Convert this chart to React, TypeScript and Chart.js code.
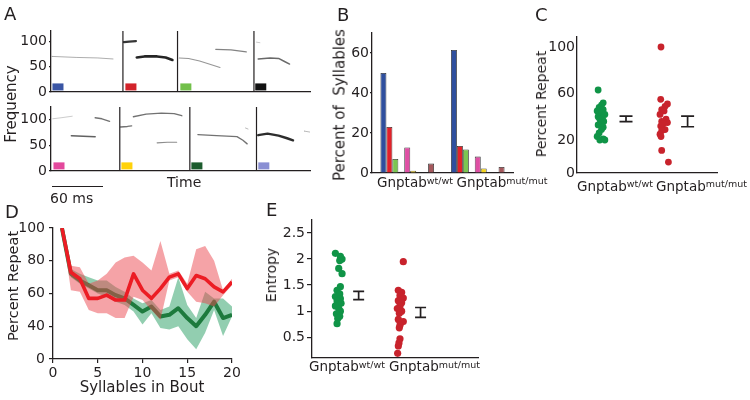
import React, { useEffect, useRef } from 'react';
import { Chart, registerables } from 'chart.js';

Chart.register(...registerables);

const FONT = "'DejaVu Sans', 'Liberation Sans', Arial, sans-serif";
const INK = '#231f20';
Chart.defaults.font.family = FONT;

// ---------------- Panel A: example syllable spectrograms (time ms, frequency kHz) ----------------
const A_TIME_MAX_MS = 305;
const A_TOP_FREQ_MAX = 120;
const A_BOTTOM_FREQ_MAX = 125;
const A_FREQ_TICKS = [0, 50, 100];
const A_TOP_DIVIDERS_MS = [84.7, 149, 239];
const A_BOTTOM_DIVIDERS_MS = [81, 163.5, 242];
const A_TOP_TRACES: number[][][] = [
  [[1, 70], [30, 68], [55, 67], [73, 65]],
  [[86, 98], [92, 99], [100, 100]],
  [[101, 68], [110, 70], [125, 70], [135, 68], [143, 63]],
  [[151, 67], [162, 66], [175, 61], [188, 54], [199, 48]],
  [[194, 84], [212, 83], [230, 79]],
  [[244, 65], [258, 67], [268, 66], [275, 60], [281, 55]],
  [[242, 98], [246, 97]],
];
const A_TOP_AMPLITUDE = [0.25, 0.9, 1.0, 0.35, 0.45, 0.6, 0.1];
const A_BOTTOM_TRACES: number[][][] = [
  [[2, 102], [12, 104], [25, 107]],
  [[52, 104], [60, 102], [69, 97]],
  [[24, 69], [38, 68], [52, 67]],
  [[82, 86], [90, 87], [95, 88]],
  [[97, 106], [112, 111], [130, 113], [145, 112], [154, 108]],
  [[125, 55], [137, 56], [148, 56]],
  [[173, 71], [195, 69], [219, 67], [226, 60], [231, 53]],
  [[229, 84], [232, 82]],
  [[244, 70], [255, 73], [268, 69], [278, 64], [285, 60]],
  [[298, 78], [305, 76]],
];
const A_BOTTOM_AMPLITUDE = [0.1, 0.55, 0.65, 0.55, 0.55, 0.4, 0.55, 0.2, 0.95, 0.2];
const A_TOP_KEY_MS = [8.2, 94.1, 158.8, 247];
const A_BOTTOM_KEY_MS = [9.4, 89.4, 171.8, 250.6];
const A_KEY_FREQ = 10;
const A_KEY_HALF_MS = 6.5;
const A_TOP_KEY_COLORS = ['#3a55a4', '#d2232a', '#72c04a', '#111111'];
const A_BOTTOM_KEY_COLORS = ['#e3489c', '#ffd20a', '#1c5c2e', '#8a8fd3'];

// ---------------- Panel B: syllable type usage ----------------
const B_GROUPS = ['Gnptab wt/wt', 'Gnptab mut/mut'];
const B_SYLLABLE_TYPES = ['blue', 'red', 'light green', 'black', 'pink', 'yellow', 'dark green', 'lavender', 'other'];
const B_WT = [50, 23, 7, 0.6, 12.8, 1.1, 0.4, 0.15, 4.7];
const B_MUT = [61.5, 13.5, 11.8, 0.4, 8.2, 2.3, 0.4, 0.15, 3];
const B_COLORS = ['#2f4f9e', '#e3222a', '#7cc651', '#1a1a1a', '#df4fa4', '#f4d51c', '#1d5d2e', '#8b8fd6', '#a5585c'];
const B_Y_TICKS = [0, 20, 40, 60];

// ---------------- Panel C: percent repeat per animal ----------------
const C_WT = [63, 52, 50, 48, 46, 45, 43, 42, 40, 39, 38, 36, 35, 33, 31, 29, 26, 23, 21, 20, 20];
const C_WT_JITTER = [-0.19, 0.17, 0.05, -0.12, 0.17, -0.26, 0.05, 0.29, -0.19, 0.12, -0.07, 0.21, -0.02, -0.19, 0.17, 0.05, -0.12, -0.26, 0.17, -0.07, 0.29];
const C_MUT = [100, 55, 51, 49, 46, 45, 42, 38, 36, 35, 34, 32, 29, 28, 25, 23, 11, 1];
const C_MUT_JITTER = [-0.17, -0.19, 0.29, 0.12, -0.12, 0.05, -0.24, 0.19, -0.12, 0.29, 0, -0.19, 0.12, -0.12, -0.24, -0.17, -0.12, 0.36];
const C_MEAN = [38.2, 36];
const C_SEM = [2.4, 4.6];
const C_GROUP_X = [1.7, 6.17];
const C_ERR_X = [3.5, 7.9];
const C_Y_MIN = -8.4;
const C_Y_MAX = 108.6;
const C_Y_TICK_VALUES = [C_Y_MIN, 20, 60, 100];
const C_Y_TICK_LABELS = ['0', '20', '60', '100'];

// ---------------- Panel D: percent repeat vs bout length ----------------
const D_SYLLABLES = [1, 2, 3, 4, 5, 6, 7, 8, 9, 10, 11, 12, 13, 14, 15, 16, 17, 18, 19, 20];
const D_MUT = [100, 73, 69, 57, 57, 59, 56, 56, 72, 62, 57, 63, 70, 72, 63, 71, 69, 64, 61, 67];
const D_MUT_HI = [100, 77, 76, 66, 68, 72, 79, 82, 83, 79, 74, 92, 72, 74, 66, 87, 89, 80, 62, 69];
const D_MUT_LO = [100, 62, 61, 50, 48, 48, 45, 45, 58, 56, 50, 44, 68, 70, 61, 55, 54, 52, 59, 65];
const D_WT = [100, 72, 68, 65, 62, 62, 59, 57, 53, 49, 52, 46, 47, 51, 45, 40, 47, 55, 45, 47];
const D_WT_HI = [100, 75, 72, 70, 68, 68, 64, 61, 57, 54, 56, 50, 52, 70, 53, 45, 61, 57, 57, 52];
const D_WT_LO = [100, 70, 66, 63, 60, 58, 55, 53, 49, 41, 48, 39, 38, 40, 32, 26, 36, 50, 34, 46];
const D_Y_TICK_VALUES = [20, 40, 60, 80, 100];
const D_Y_TICK_LABELS = ['0', '40', '60', '80', '100'];
const D_X_TICKS = [0, 5, 10, 15, 20];

// ---------------- Panel E: entropy per animal ----------------
const E_WT = [2.11, 2.05, 2.0, 1.97, 1.82, 1.72, 1.47, 1.4, 1.33, 1.28, 1.24, 1.2, 1.15, 1.1, 1.05, 1.0, 0.95, 0.9, 0.86, 0.76];
const E_WT_JITTER = [-0.16, 0.14, 0.24, 0.1, 0.04, 0.24, 0.14, -0.06, 0.1, -0.16, 0.14, -0.06, 0.18, -0.16, 0.04, 0.14, -0.1, 0.1, -0.02, -0.06];
const E_MUT = [1.95, 1.4, 1.36, 1.3, 1.25, 1.2, 1.16, 1.1, 1.05, 1.0, 0.96, 0.84, 0.8, 0.73, 0.68, 0.47, 0.39, 0.33, 0.19];
const E_MUT_JITTER = [0.14, -0.16, 0.04, -0.06, 0.14, -0.16, 0.04, -0.06, -0.22, 0.04, -0.1, -0.16, 0.14, -0.06, -0.1, -0.06, -0.12, -0.16, -0.2];
const E_MEAN = [1.3, 0.975];
const E_SEM = [0.08, 0.095];
const E_GROUP_X = [1.57, 5.36];
const E_ERR_X = [2.81, 6.54];
const E_Y_TICKS = [0.5, 1, 1.5, 2, 2.5];

const GREEN = '#109447';
const RED = '#c8232c';
const RED_LINE = '#ec1c24';
const GREEN_LINE = '#1d7a3d';
const RED_BAND = 'rgba(236, 72, 80, 0.5)';
const GREEN_BAND = 'rgba(38, 158, 98, 0.5)';

// ---------------- helpers ----------------
type Box = { left: number; top: number; width: number; height: number };
type Area = { left: number; top: number; right: number; bottom: number };

function baseOptions(box: Box, area: Area, scales: any, xHeight = 0) {
  return {
    responsive: false,
    maintainAspectRatio: false,
    animation: false,
    devicePixelRatio: 1,
    events: [],
    layout: {
      padding: {
        left: 0,
        top: area.top - box.top,
        right: box.left + box.width - area.right,
        bottom: box.top + box.height - area.bottom - xHeight,
      },
    },
    elements: { point: { radius: 0 } },
    plugins: { legend: { display: false }, tooltip: { enabled: false } },
    scales,
  };
}

function yScale(box: Box, area: Area, o: { min: number; max: number; ticks: number[]; labels?: string[]; tickLength: number; padding: number }) {
  return {
    type: 'linear',
    min: o.min,
    max: o.max,
    afterFit: (s: any) => { s.width = area.left - box.left; },
    afterBuildTicks: (s: any) => { s.ticks = o.ticks.map((v) => ({ value: v })); },
    border: { display: true, color: INK, width: 1.3 },
    grid: { display: true, drawOnChartArea: false, drawTicks: o.tickLength > 0, tickLength: o.tickLength, color: INK, lineWidth: 1.2 },
    ticks: {
      color: INK,
      font: { family: FONT, size: 14 },
      padding: o.padding,
      callback: (v: number, i: number) => (o.labels ? o.labels[i] : String(v)),
    },
  };
}

function xHidden(extra: any = {}) {
  return {
    afterFit: (s: any) => { s.height = 0; },
    border: { display: true, color: INK, width: 1.3 },
    grid: { display: false },
    ticks: { display: false },
    ...extra,
  };
}

function errorBarPlugin(xs: number[], means: number[], sems: number[], capHalf: number) {
  return {
    id: 'errorBars',
    afterDatasetsDraw(chart: any) {
      const { ctx, scales } = chart;
      ctx.save();
      ctx.strokeStyle = INK;
      ctx.lineWidth = 1.7;
      xs.forEach((xv, i) => {
        const px = scales.x.getPixelForValue(xv);
        const top = scales.y.getPixelForValue(means[i] + sems[i]);
        const bot = scales.y.getPixelForValue(means[i] - sems[i]);
        ctx.beginPath();
        ctx.moveTo(px, top); ctx.lineTo(px, bot);
        ctx.moveTo(px - capHalf, top); ctx.lineTo(px + capHalf, top);
        ctx.moveTo(px - capHalf, bot); ctx.lineTo(px + capHalf, bot);
        ctx.stroke();
      });
      ctx.restore();
    },
  };
}

function ChartCanvas({ box, build }: { box: Box; build: () => any }) {
  const ref = useRef<HTMLCanvasElement>(null);
  useEffect(() => {
    const chart = new Chart(ref.current as HTMLCanvasElement, build());
    return () => chart.destroy();
  }, []);
  return (
    <canvas
      ref={ref}
      width={box.width}
      height={box.height}
      style={{ position: 'absolute', left: box.left, top: box.top, width: box.width, height: box.height }}
    />
  );
}

// ---------------- chart builders ----------------
function spectrogramConfig(box: Box, area: Area, freqMax: number, traces: number[][][], amps: number[], dividers: number[], keys: number[], keyColors: string[]) {
  const datasets: any[] = [];
  traces.forEach((tr, i) => {
    const a = amps[i];
    datasets.push({
      data: tr.map(([x, y]) => ({ x, y })),
      showLine: true,
      borderColor: `rgba(25,25,25,${0.2 + 0.75 * a})`,
      borderWidth: 0.8 + 1.8 * a * a,
      borderCapStyle: 'round',
      borderJoinStyle: 'round',
      pointRadius: 0,
    });
  });
  dividers.forEach((d) => {
    datasets.push({ data: [{ x: d, y: 0 }, { x: d, y: freqMax }], showLine: true, borderColor: INK, borderWidth: 1.2, pointRadius: 0 });
  });
  keys.forEach((k, i) => {
    datasets.push({
      data: [{ x: k - A_KEY_HALF_MS, y: A_KEY_FREQ }, { x: k + A_KEY_HALF_MS, y: A_KEY_FREQ }],
      showLine: true,
      borderColor: keyColors[i],
      borderWidth: 7,
      borderCapStyle: 'butt',
      pointRadius: 0,
    });
  });
  return {
    type: 'scatter',
    data: { datasets },
    options: baseOptions(box, area, {
      x: xHidden({ type: 'linear', min: 0, max: A_TIME_MAX_MS }),
      y: yScale(box, area, { min: 0, max: freqMax, ticks: A_FREQ_TICKS, tickLength: 2, padding: 2 }),
    }),
  };
}

const A_TOP_BOX = { left: 0, top: 15, width: 320, height: 93 };
const A_TOP_AREA = { left: 51, top: 31, right: 310, bottom: 92 };
const A_BOT_BOX = { left: 0, top: 91, width: 320, height: 96 };
const A_BOT_AREA = { left: 51, top: 107, right: 310, bottom: 171 };

const B_BOX = { left: 335, top: 17, width: 188, height: 172 };
const B_AREA = { left: 372, top: 33, right: 513, bottom: 173 };
function buildB() {
  return {
    type: 'bar',
    data: {
      labels: B_GROUPS,
      datasets: B_SYLLABLE_TYPES.map((name, i) => ({
        label: name,
        data: [B_WT[i], B_MUT[i]],
        backgroundColor: B_COLORS[i],
        borderColor: '#2a2a2a',
        borderWidth: 0.8,
        categoryPercentage: 0.76,
        barPercentage: 1,
      })),
    },
    options: baseOptions(B_BOX, B_AREA, {
      x: xHidden({ type: 'category' }),
      y: yScale(B_BOX, B_AREA, { min: 0, max: 70, ticks: B_Y_TICKS, tickLength: 2, padding: 1 }),
    }),
  };
}

function dots(values: number[], jitter: number[], center: number) {
  return values.map((v, i) => ({ x: center + jitter[i], y: v }));
}

const C_BOX = { left: 540, top: 21, width: 191, height: 168 };
const C_AREA = { left: 577, top: 37, right: 717, bottom: 173 };
function buildC() {
  return {
    type: 'scatter',
    data: {
      datasets: [
        { data: dots(C_WT, C_WT_JITTER, C_GROUP_X[0]), backgroundColor: GREEN, pointRadius: 3.4, borderWidth: 0 },
        { data: dots(C_MUT, C_MUT_JITTER, C_GROUP_X[1]), backgroundColor: RED, pointRadius: 3.4, borderWidth: 0 },
      ],
    },
    plugins: [errorBarPlugin(C_ERR_X, C_MEAN, C_SEM, 6.5)],
    options: baseOptions(C_BOX, C_AREA, {
      x: xHidden({ type: 'linear', min: 0, max: 10 }),
      y: yScale(C_BOX, C_AREA, { min: C_Y_MIN, max: C_Y_MAX, ticks: C_Y_TICK_VALUES, labels: C_Y_TICK_LABELS, tickLength: 0, padding: 2 }),
    }),
  };
}

const D_BOX = { left: 0, top: 212, width: 246, height: 177 };
const D_AREA = { left: 53, top: 228, right: 232, bottom: 359 };
const D_X_AXIS_HEIGHT = 28;
function buildD() {
  const pts = (ys: number[]) => D_SYLLABLES.map((x, i) => ({ x, y: ys[i] }));
  const clear = 'rgba(0,0,0,0)';
  return {
    type: 'line',
    data: {
      datasets: [
        { data: pts(D_MUT), borderColor: RED_LINE, borderWidth: 3.6, borderJoinStyle: 'round', fill: false, order: 0 },
        { data: pts(D_MUT_HI), borderColor: clear, borderWidth: 1, backgroundColor: RED_BAND, fill: '+1', order: 1 },
        { data: pts(D_MUT_LO), borderColor: clear, borderWidth: 1, fill: false, order: 1 },
        { data: pts(D_WT), borderColor: GREEN_LINE, borderWidth: 4, borderJoinStyle: 'round', fill: false, order: 2 },
        { data: pts(D_WT_HI), borderColor: clear, borderWidth: 1, backgroundColor: GREEN_BAND, fill: '+1', order: 3 },
        { data: pts(D_WT_LO), borderColor: clear, borderWidth: 1, fill: false, order: 3 },
      ],
    },
    options: baseOptions(D_BOX, D_AREA, {
      x: {
        type: 'linear',
        min: 0,
        max: 20,
        afterFit: (s: any) => { s.height = D_X_AXIS_HEIGHT; },
        afterBuildTicks: (s: any) => { s.ticks = D_X_TICKS.map((v) => ({ value: v })); },
        border: { display: true, color: INK, width: 1.3 },
        grid: { display: true, drawOnChartArea: false, drawTicks: true, tickLength: 4, color: INK, lineWidth: 1.2 },
        ticks: { color: INK, font: { family: FONT, size: 14 }, padding: 2, maxRotation: 0, autoSkip: false, callback: (v: number) => String(v) },
      },
      y: yScale(D_BOX, D_AREA, { min: 20, max: 100, ticks: D_Y_TICK_VALUES, labels: D_Y_TICK_LABELS, tickLength: 4, padding: 4 }),
    }, D_X_AXIS_HEIGHT),
  };
}

const E_BOX = { left: 270, top: 204, width: 218, height: 170 };
const E_AREA = { left: 312, top: 220, right: 478, bottom: 358 };
function buildE() {
  return {
    type: 'scatter',
    data: {
      datasets: [
        { data: dots(E_WT, E_WT_JITTER, E_GROUP_X[0]), backgroundColor: GREEN, pointRadius: 3.6, borderWidth: 0 },
        { data: dots(E_MUT, E_MUT_JITTER, E_GROUP_X[1]), backgroundColor: RED, pointRadius: 3.6, borderWidth: 0 },
      ],
    },
    plugins: [errorBarPlugin(E_ERR_X, E_MEAN, E_SEM, 5.5)],
    options: baseOptions(E_BOX, E_AREA, {
      x: xHidden({ type: 'linear', min: 0, max: 10 }),
      y: yScale(E_BOX, E_AREA, { min: 0.1, max: 2.75, ticks: E_Y_TICKS, tickLength: 5, padding: 2 }),
    }),
  };
}

// ---------------- text helpers ----------------
const textBase: React.CSSProperties = {
  position: 'absolute',
  fontFamily: FONT,
  color: INK,
  lineHeight: 1,
  whiteSpace: 'pre',
};

function Text({ left, top, size, children }: { left: number; top: number; size: number; children: React.ReactNode }) {
  return <div style={{ ...textBase, left, top, fontSize: size }}>{children}</div>;
}

function VText({ cx, cy, size, children }: { cx: number; cy: number; size: number; children: React.ReactNode }) {
  return (
    <div style={{ ...textBase, left: cx, top: cy, fontSize: size, transform: 'translate(-50%, -50%) rotate(-90deg)' }}>
      {children}
    </div>
  );
}

function Genotype({ left, top, sup }: { left: number; top: number; sup: string }) {
  return (
    <div style={{ ...textBase, left, top, fontSize: 13.5 }}>
      Gnptab<span style={{ fontSize: 9.5, position: 'relative', top: -3.5 }}>{sup}</span>
    </div>
  );
}

export default function App() {
  return (
    <div style={{ position: 'absolute', left: 0, top: 0, width: 750, height: 400, background: '#fff', overflow: 'hidden' }}>
      <ChartCanvas box={A_TOP_BOX} build={() => spectrogramConfig(A_TOP_BOX, A_TOP_AREA, A_TOP_FREQ_MAX, A_TOP_TRACES, A_TOP_AMPLITUDE, A_TOP_DIVIDERS_MS, A_TOP_KEY_MS, A_TOP_KEY_COLORS)} />
      <ChartCanvas box={A_BOT_BOX} build={() => spectrogramConfig(A_BOT_BOX, A_BOT_AREA, A_BOTTOM_FREQ_MAX, A_BOTTOM_TRACES, A_BOTTOM_AMPLITUDE, A_BOTTOM_DIVIDERS_MS, A_BOTTOM_KEY_MS, A_BOTTOM_KEY_COLORS)} />
      <ChartCanvas box={B_BOX} build={buildB} />
      <ChartCanvas box={C_BOX} build={buildC} />
      <ChartCanvas box={D_BOX} build={buildD} />
      <ChartCanvas box={E_BOX} build={buildE} />

      {/* Panel letters */}
      <Text left={4} top={5} size={18}>A</Text>
      <Text left={337} top={6} size={18}>B</Text>
      <Text left={535} top={6} size={18}>C</Text>
      <Text left={5} top={203} size={18}>D</Text>
      <Text left={266} top={201} size={18}>E</Text>

      {/* Panel A annotations */}
      <VText cx={11} cy={104} size={15}>Frequency</VText>
      <Text left={167} top={175} size={14}>Time</Text>
      <div style={{ position: 'absolute', left: 52, top: 186, width: 51, height: 0, borderTop: `1.6px solid ${INK}` }} />
      <Text left={50} top={191} size={14}>60 ms</Text>

      {/* Panel B annotations */}
      <VText cx={340} cy={105} size={15}>{'Percent of  Syllables'}</VText>
      <Genotype left={377} top={176.4} sup="wt/wt" />
      <Genotype left={456.5} top={176.4} sup="mut/mut" />

      {/* Panel C annotations */}
      <VText cx={541} cy={104} size={14}>Percent Repeat</VText>
      <Genotype left={577} top={179.7} sup="wt/wt" />
      <Genotype left={656} top={179.7} sup="mut/mut" />

      {/* Panel D annotations */}
      <VText cx={12.5} cy={286} size={14.5}>Percent Repeat</VText>
      <div style={{ ...textBase, left: 142, top: 380, fontSize: 15, transform: 'translateX(-50%)' }}>Syllables in Bout</div>

      {/* Panel E annotations */}
      <VText cx={271} cy={275} size={14}>Entropy</VText>
      <Genotype left={309} top={360.4} sup="wt/wt" />
      <Genotype left={389} top={360.4} sup="mut/mut" />
    </div>
  );
}
